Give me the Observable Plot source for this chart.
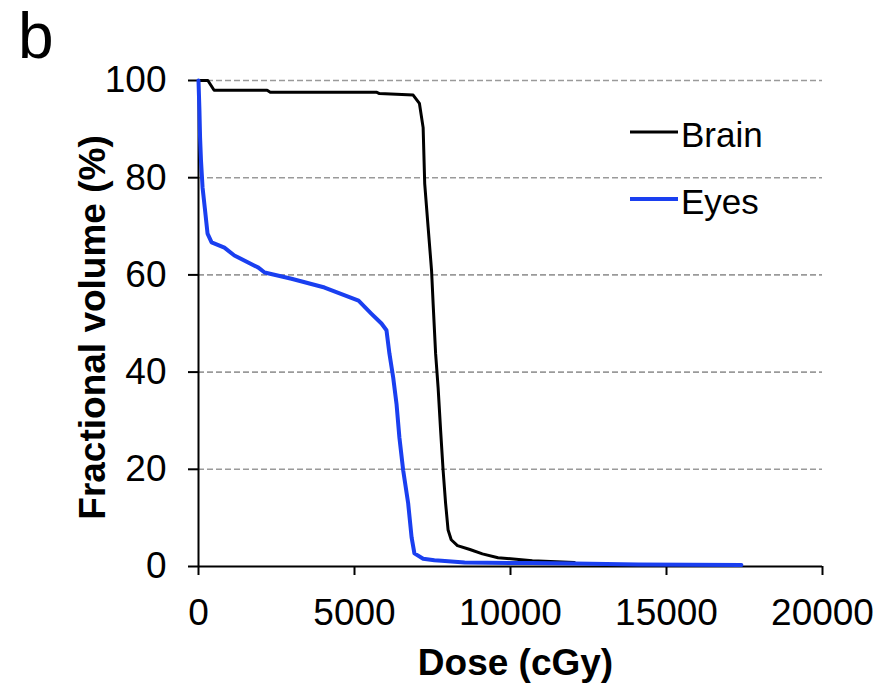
<!DOCTYPE html>
<html>
<head>
<meta charset="utf-8">
<script src="https://cdn.jsdelivr.net/npm/d3@7"></script>
<script src="https://cdn.jsdelivr.net/npm/@observablehq/plot@0.6"></script>
<style>
  html, body { margin: 0; padding: 0; background: #fff; }
  #wrap { position: relative; width: 883px; height: 684px; }
  #wrap svg { display: block; }
  .overlay { position: absolute; left: 0; top: 0; pointer-events: none; }
</style>
</head>
<body>
<div id="wrap"></div>
<script>
// ---- Data ----
const seriesNames = ["Brain", "Eyes"];
const seriesColors = ["#000000", "#1a3ff0"];

const brainDose = [0, 300, 500, 2200, 2300, 5700, 5800, 6880, 7080, 7200, 7250, 7360, 7470, 7520, 7600, 7680, 7760, 7840, 7920, 8000, 8100, 8300, 8700, 9100, 9600, 10700, 12050];
const brainVol  = [100, 100, 98, 98, 97.6, 97.6, 97.3, 97, 95.3, 90.3, 78.8, 69.8, 60.9, 54.1, 43.8, 36.8, 28, 19.8, 13, 7.5, 5.5, 4.3, 3.5, 2.6, 1.8, 1.2, 0.8];

const eyesDose = [0, 30, 50, 80, 130, 200, 290, 420, 830, 1150, 1920, 2120, 2980, 4040, 5130, 5545, 5865, 6025, 6120, 6240, 6346, 6440, 6560, 6720, 6830, 6920, 7200, 7560, 7790, 8530, 10670, 12050, 14100, 17400];
const eyesVol  = [100, 93.8, 88.3, 83.5, 78, 73.9, 68.5, 66.7, 65.6, 64, 61.5, 60.5, 59.2, 57.4, 54.7, 52, 50, 48.6, 43.8, 38.9, 33.5, 26.5, 19.8, 13, 6, 2.7, 1.6, 1.3, 1.2, 0.8, 0.7, 0.6, 0.4, 0.3];

const xTicks = [0, 5000, 10000, 15000, 20000];
const yTicks = [0, 20, 40, 60, 80, 100];
const gridVals = [20, 40, 60, 80, 100];
const xLabel = "Dose (cGy)";
const yLabel = "Fractional volume (%)";
const panelLabel = "b";

// ---- Build tables ----
const brain = brainDose.map((d, i) => ({dose: d, vol: brainVol[i], s: seriesNames[0]}));
const eyes = eyesDose.map((d, i) => ({dose: d, vol: eyesVol[i], s: seriesNames[1]}));

const FONT = "'Liberation Sans', Arial, Helvetica, sans-serif";

const chart = Plot.plot({
  width: 883,
  height: 684,
  marginLeft: 198,
  marginRight: 61,
  marginTop: 80,
  marginBottom: 118,
  style: {fontFamily: FONT, fontSize: "37px", color: "#000", background: "#fff", overflow: "visible"},
  x: {domain: [0, 20000]},
  y: {domain: [0, 100]},
  marks: [
    Plot.ruleY(gridVals, {stroke: "#9a9a9a", strokeWidth: 1.6, strokeDasharray: "6,3"}),
    Plot.axisX({ticks: xTicks, tickSize: 9, tickPadding: 23, tickFormat: d => String(d), label: null, stroke: "#000", strokeWidth: 2, fontSize: 37}),
    Plot.axisY({ticks: yTicks, tickSize: 10, tickPadding: 22, tickFormat: d => String(d), label: null, stroke: "#000", strokeWidth: 2, fontSize: 37}),
    Plot.ruleX([0], {stroke: "#000", strokeWidth: 2}),
    Plot.ruleY([0], {stroke: "#000", strokeWidth: 2}),
    Plot.line(brain, {x: "dose", y: "vol", stroke: seriesColors[0], strokeWidth: 3, curve: "linear"}),
    Plot.line(eyes, {x: "dose", y: "vol", stroke: seriesColors[1], strokeWidth: 4, curve: "linear"}),
    Plot.text([xLabel], {frameAnchor: "bottom", textAnchor: "middle", dx: 5, dy: 108, fontWeight: "bold", fontSize: 37, fill: "#000"}),
    Plot.text([yLabel], {frameAnchor: "left", textAnchor: "middle", rotate: -90, dx: -105, dy: 4, fontWeight: "bold", fontSize: 37, fill: "#000"})
  ]
});

const wrap = document.getElementById("wrap");
wrap.appendChild(chart);

// Legend + panel letter overlay
const ns = "http://www.w3.org/2000/svg";
const ov = document.createElementNS(ns, "svg");
ov.setAttribute("class", "overlay");
ov.setAttribute("width", 883);
ov.setAttribute("height", 684);
ov.style.fontFamily = FONT;

const b = document.createElementNS(ns, "text");
b.setAttribute("x", 18); b.setAttribute("y", 58);
b.setAttribute("font-size", 64);
b.textContent = panelLabel;
ov.appendChild(b);

seriesNames.forEach((name, i) => {
  const yLine = 132 + i * 67;
  const ln = document.createElementNS(ns, "line");
  ln.setAttribute("x1", 630); ln.setAttribute("x2", 678);
  ln.setAttribute("y1", yLine); ln.setAttribute("y2", yLine);
  ln.setAttribute("stroke", seriesColors[i]);
  ln.setAttribute("stroke-width", i === 0 ? 3 : 4);
  ov.appendChild(ln);
  const t = document.createElementNS(ns, "text");
  t.setAttribute("x", 681); t.setAttribute("y", yLine + 15);
  t.setAttribute("font-size", 35);
  t.textContent = name;
  ov.appendChild(t);
});
wrap.appendChild(ov);
</script>
</body>
</html>
